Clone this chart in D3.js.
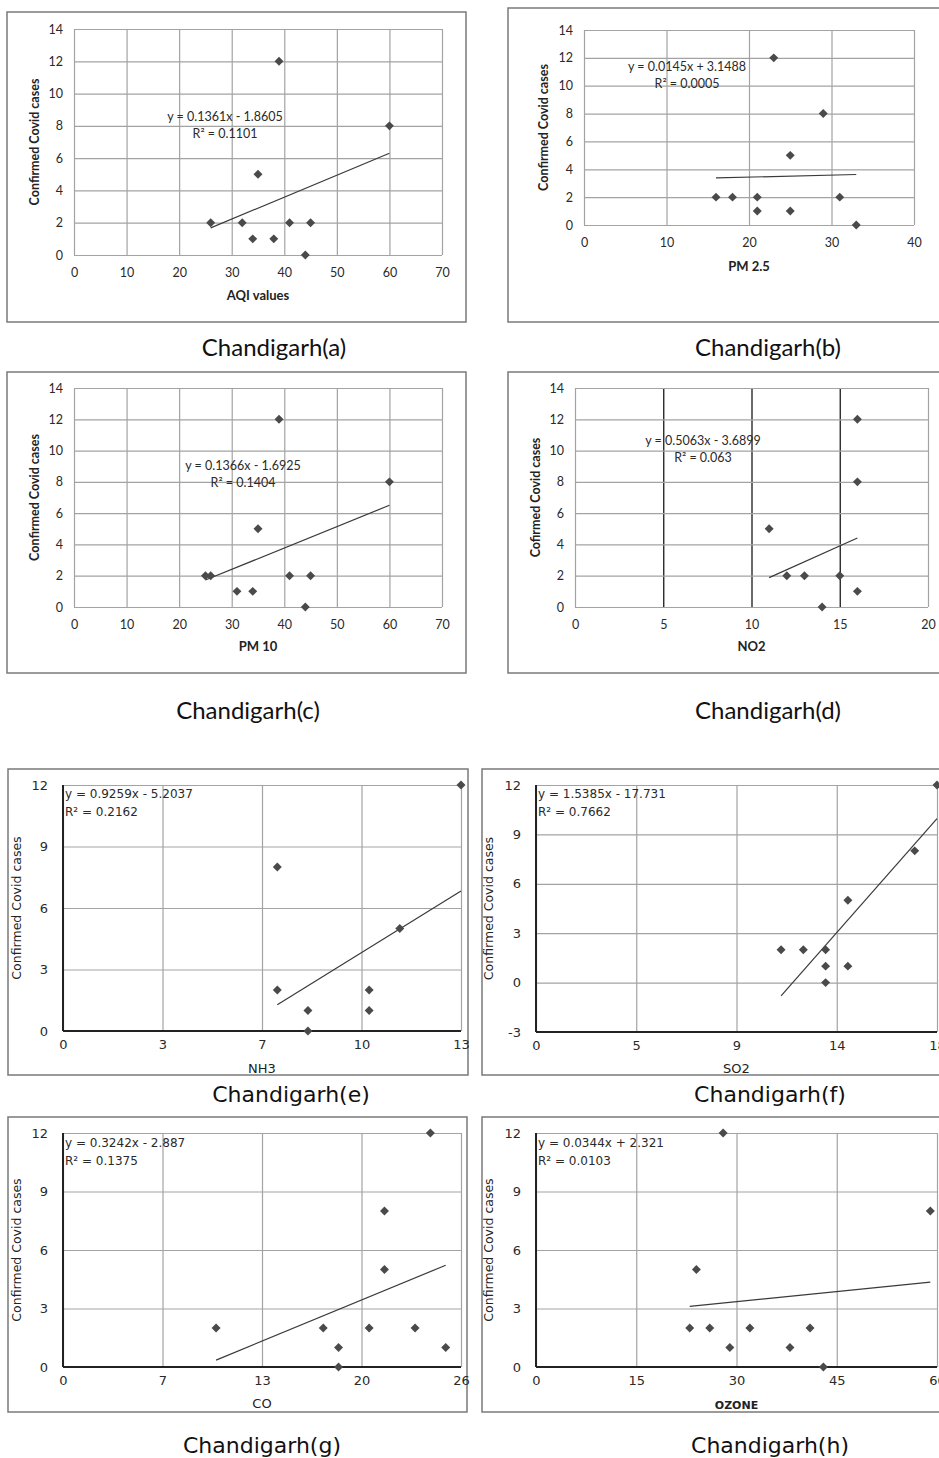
<!DOCTYPE html>
<html>
<head>
<meta charset="utf-8">
<script src="https://cdnjs.cloudflare.com/ajax/libs/d3/7.8.5/d3.min.js"></script>
<style>
  body { margin: 0; background: #fff; }
  svg { display: block; }
</style>
</head>
<body>
<svg id="chart" width="939" height="1458"></svg>
<script>
// values (x = pollutant, y = confirmed cases)
const aqiX = [26, 32, 34, 35, 38, 39, 41, 44, 45, 60];
const aqiY = [2, 2, 1, 5, 1, 12, 2, 0, 2, 8];
const pm25X = [16, 18, 21, 21, 23, 25, 25, 29, 31, 33];
const pm25Y = [2, 2, 2, 1, 12, 5, 1, 8, 2, 0];
const pm10X = [25, 26, 31, 34, 35, 39, 41, 44, 45, 60];
const pm10Y = [2, 2, 1, 1, 5, 12, 2, 0, 2, 8];
const no2X = [11, 12, 13, 14, 15, 16, 16, 16];
const no2Y = [5, 2, 2, 0, 2, 12, 8, 1];
const nh3X = [7, 7, 8, 8, 10, 10, 11, 13];
const nh3Y = [8, 2, 1, 0, 2, 1, 5, 12];
const so2X = [11, 12, 13, 13, 13, 14, 14, 17, 18];
const so2Y = [2, 2, 2, 1, 0, 5, 1, 8, 12];
const coX = [10, 17, 18, 18, 20, 21, 21, 23, 24, 25];
const coY = [2, 2, 1, 0, 2, 8, 5, 2, 12, 1];
const ozoneX = [23, 24, 26, 28, 29, 32, 38, 41, 43, 59];
const ozoneY = [2, 5, 2, 12, 1, 2, 1, 2, 0, 8];

// trendline fits as printed on each chart
const slopes = [0.1361, 0.0145, 0.1366, 0.5063, 0.9259, 1.5385, 0.3242, 0.0344];
const intercepts = [-1.8605, 3.1488, -1.6925, -3.6899, -5.2037, -17.731, -2.887, 2.321];
const eqLabels = ["y = 0.1361x - 1.8605", "y = 0.0145x + 3.1488", "y = 0.1366x - 1.6925", "y = 0.5063x - 3.6899",
  "y = 0.9259x - 5.2037", "y = 1.5385x - 17.731", "y = 0.3242x - 2.887", "y = 0.0344x + 2.321"];
const r2Labels = ["0.1101", "0.0005", "0.1404", "0.063", "0.2162", "0.7662", "0.1375", "0.0103"];

// tick values and labels
const ticks70 = [0, 10, 20, 30, 40, 50, 60, 70];
const ticks40 = [0, 10, 20, 30, 40];
const ticks20 = [0, 5, 10, 15, 20];
const ticks14 = [0, 2, 4, 6, 8, 10, 12, 14];
const ticksNH3 = [0, 3.25, 6.5, 9.75, 13];
const labelsNH3 = ["0", "3", "7", "10", "13"];
const ticksSO2 = [0, 4.5, 9, 13.5, 18];
const labelsSO2 = ["0", "5", "9", "14", "18"];
const ticksCO = [0, 6.5, 13, 19.5, 26];
const labelsCO = ["0", "7", "13", "20", "26"];
const ticksOzone = [0, 15, 30, 45, 60];
const ticks12 = [0, 3, 6, 9, 12];
const ticksSO2y = [-3, 0, 3, 6, 9, 12];

const svg = d3.select("#chart");
const topFont = "Lato, 'Open Sans', sans-serif";
const botFont = "'DejaVu Sans', sans-serif";

const panels = [
  { k: 0, xs: aqiX, ys: aqiY, top: true, frame: [7, 12, 466, 322], plot: [74, 29, 442, 255],
    xd: [0, 70], xt: ticks70, yd: [0, 14], yt: ticks14, xTitle: "AQI values", yTitle: "Confirmed Covid cases",
    xTitleY: 300, yTitleX: 35, eqX: 225, eqY: 121, cap: "Chandigarh(a)", capX: 274, capY: 356 },
  { k: 1, xs: pm25X, ys: pm25Y, top: true, frame: [508, 8, 950, 322], plot: [584, 30, 914, 225],
    xd: [0, 40], xt: ticks40, yd: [0, 14], yt: ticks14, xTitle: "PM 2.5", yTitle: "Confirmed Covid cases",
    xTitleY: 271, yTitleX: 544, eqX: 687, eqY: 71, cap: "Chandigarh(b)", capX: 768, capY: 356 },
  { k: 2, xs: pm10X, ys: pm10Y, top: true, frame: [7, 372, 466, 673], plot: [74, 388, 442, 607],
    xd: [0, 70], xt: ticks70, yd: [0, 14], yt: ticks14, xTitle: "PM 10", yTitle: "Confirmed Covid cases",
    xTitleY: 651, yTitleX: 35, eqX: 243, eqY: 470, cap: "Chandigarh(c)", capX: 248, capY: 719 },
  { k: 3, xs: no2X, ys: no2Y, top: true, frame: [508, 372, 950, 673], plot: [575, 388, 928, 607],
    xd: [0, 20], xt: ticks20, yd: [0, 14], yt: ticks14, xTitle: "NO2", yTitle: "Cofirmed Covid cases",
    xTitleY: 651, yTitleX: 536, eqX: 703, eqY: 445, darkV: true, cap: "Chandigarh(d)", capX: 768, capY: 719 },
  { k: 4, xs: nh3X, ys: nh3Y, top: false, frame: [8, 769, 468, 1075], plot: [63, 785, 461, 1031],
    xd: [0, 13], xt: ticksNH3, xl: labelsNH3, yd: [0, 12], yt: ticks12, xTitle: "NH3", yTitle: "Confirmed Covid cases",
    xTitleY: 1073, yTitleX: 17, eqY: 798, cap: "Chandigarh(e)", capX: 291, capY: 1102 },
  { k: 5, xs: so2X, ys: so2Y, top: false, frame: [482, 769, 950, 1075], plot: [536, 785, 937, 1032],
    xd: [0, 18], xt: ticksSO2, xl: labelsSO2, yd: [-3, 12], yt: ticksSO2y, xTitle: "SO2", yTitle: "Confirmed Covid cases",
    xTitleY: 1073, yTitleX: 489, eqY: 798, cap: "Chandigarh(f)", capX: 770, capY: 1102 },
  { k: 6, xs: coX, ys: coY, top: false, frame: [8, 1117, 467, 1412], plot: [63, 1133, 461, 1367],
    xd: [0, 26], xt: ticksCO, xl: labelsCO, yd: [0, 12], yt: ticks12, xTitle: "CO", yTitle: "Confirmed Covid cases",
    xTitleY: 1408, yTitleX: 17, eqY: 1147, cap: "Chandigarh(g)", capX: 262, capY: 1453 },
  { k: 7, xs: ozoneX, ys: ozoneY, top: false, frame: [482, 1117, 950, 1412], plot: [536, 1133, 937, 1367],
    xd: [0, 60], xt: ticksOzone, yd: [0, 12], yt: ticks12, xTitle: "OZONE", yTitle: "Confirmed Covid cases",
    xTitleY: 1409, yTitleX: 489, eqY: 1147, small: true, cap: "Chandigarh(h)", capX: 770, capY: 1453 }
];

function drawPanel(p) {
  const [fx0, fy0, fx1, fy1] = p.frame;
  const [px0, py0, px1, py1] = p.plot;
  const font = p.top ? topFont : botFont;
  const g = svg.append("g");

  g.append("rect")
    .attr("x", fx0).attr("y", fy0)
    .attr("width", fx1 - fx0).attr("height", fy1 - fy0)
    .attr("fill", "#fff").attr("stroke", "#7a7a7a").attr("stroke-width", 1.5);

  const x = d3.scaleLinear().domain(p.xd).range([px0, px1]);
  const y = d3.scaleLinear().domain(p.yd).range([py1, py0]);

  // axes with full-length ticks as gridlines
  const xa = g.append("g").attr("transform", `translate(0,${py1})`)
    .call(d3.axisBottom(x).tickValues(p.xt)
      .tickFormat((d, i) => p.xl ? p.xl[i] : String(d))
      .tickSize(-(py1 - py0)).tickPadding(p.top ? 13 : 9));
  const ya = g.append("g").attr("transform", `translate(${px0},0)`)
    .call(d3.axisLeft(y).tickValues(p.yt)
      .tickFormat(d => String(d))
      .tickSize(-(px1 - px0)).tickPadding(p.top ? 11 : 15));
  [xa, ya].forEach(a => {
    a.select(".domain").remove();
    a.selectAll(".tick line").attr("stroke", "#a3a3a3").attr("stroke-width", 1.2);
    a.selectAll("text").attr("fill", "#2a2a2a").style("font-family", font)
      .style("font-size", p.top ? "12.5px" : "13px");
  });
  if (p.darkV) {
    xa.selectAll(".tick line").filter(d => d > p.xd[0] && d < p.xd[1])
      .attr("stroke", "#1a1a1a").attr("stroke-width", 1.3);
  }
  if (!p.top) {
    g.append("line").attr("x1", px0).attr("x2", px0).attr("y1", py0).attr("y2", py1)
      .attr("stroke", "#222").attr("stroke-width", 2);
    g.append("line").attr("x1", px0).attr("x2", px1).attr("y1", py1).attr("y2", py1)
      .attr("stroke", "#222").attr("stroke-width", 2);
  }

  // trendline over the data's x range
  const ext = d3.extent(p.xs);
  const s = slopes[p.k], b = intercepts[p.k];
  g.append("path")
    .datum(ext.map(v => [v, s * v + b]))
    .attr("d", d3.line().x(d => x(d[0])).y(d => y(d[1])))
    .attr("stroke", "#3a3a3a").attr("stroke-width", 1.2).attr("fill", "none");

  // diamond markers
  const diamond = d3.symbol(d3.symbolSquare, 40);
  g.selectAll("path.pt")
    .data(p.xs.map((v, i) => [v, p.ys[i]]))
    .join("path").attr("class", "pt")
    .attr("d", diamond)
    .attr("transform", d => `translate(${x(d[0])},${y(d[1])}) rotate(45)`)
    .attr("fill", "#4a4a4a");

  // equation + R²
  const eq = g.append("text").style("font-family", font).attr("fill", "#2a2a2a")
    .style("font-size", p.top ? "12.5px" : "12px");
  if (p.top) {
    eq.attr("text-anchor", "middle");
    eq.append("tspan").attr("x", p.eqX).attr("y", p.eqY).text(eqLabels[p.k]);
    eq.append("tspan").attr("x", p.eqX).attr("y", p.eqY + 17).text("R² = " + r2Labels[p.k]);
  } else {
    eq.append("tspan").attr("x", px0 + 2).attr("y", p.eqY).text(eqLabels[p.k]);
    eq.append("tspan").attr("x", px0 + 2).attr("y", p.eqY + 18).text("R² = " + r2Labels[p.k]);
  }

  // axis titles
  g.append("text").attr("x", (px0 + px1) / 2).attr("y", p.xTitleY)
    .attr("text-anchor", "middle").style("font-family", font)
    .style("font-weight", p.top || p.small ? "bold" : "normal")
    .style("font-size", p.top ? "13px" : (p.small ? "11px" : "13px"))
    .attr("fill", "#222").text(p.xTitle);
  g.append("text")
    .attr("transform", `translate(${p.yTitleX},${(py0 + py1) / 2}) rotate(-90)`)
    .attr("text-anchor", "middle").attr("dy", "0.35em")
    .style("font-family", font).style("font-weight", p.top ? "bold" : "normal")
    .style("font-size", p.top ? "12.5px" : "12.5px")
    .attr("fill", "#222").text(p.yTitle);

  // caption under the chart
  svg.append("text").attr("x", p.capX).attr("y", p.capY)
    .attr("text-anchor", "middle")
    .style("font-family", p.top ? topFont : botFont)
    .style("font-size", p.top ? "24px" : "22px")
    .attr("fill", "#111").text(p.cap);
}

panels.forEach(drawPanel);
</script>
</body>
</html>
